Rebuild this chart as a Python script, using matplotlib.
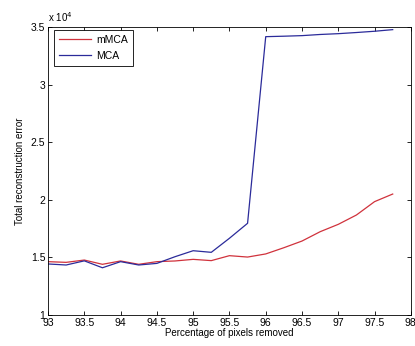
import numpy as np
import matplotlib.pyplot as plt

plt.rcParams['font.family'] = ['Liberation Sans', 'DejaVu Sans']

# percentage of pixels removed
pct = [93.0, 93.25, 93.5, 93.75, 94.0, 94.25, 94.5, 94.75, 95.0, 95.25,
       95.5, 95.75, 96.0, 96.25, 96.5, 96.75, 97.0, 97.25, 97.5, 97.75]

# total reconstruction error, in units of 1e4
mmca = [1.463, 1.457, 1.477, 1.440, 1.469, 1.440, 1.463, 1.469, 1.483, 1.472,
        1.515, 1.503, 1.530, 1.584, 1.642, 1.723, 1.787, 1.868, 1.984, 2.050]
mca = [1.443, 1.434, 1.470, 1.410, 1.463, 1.434, 1.448, 1.506, 1.558, 1.544,
       1.666, 1.796, 3.416, 3.420, 3.425, 3.435, 3.442, 3.452, 3.463, 3.477]

fig = plt.figure(figsize=(4.15, 3.46), dpi=100)
ax = fig.add_axes([0.1157, 0.0896, 0.8743, 0.8324])

ax.plot(pct, mmca, color='#d0323c', lw=0.9, label='mMCA')
ax.plot(pct, mca, color='#2b2b9a', lw=0.9, label='MCA')

ax.set_xlim(93, 98)
ax.set_ylim(1, 3.5)
ax.set_xticks(np.arange(93, 98.01, 0.5))
ax.set_xticklabels(['93', '93.5', '94', '94.5', '95', '95.5', '96', '96.5', '97', '97.5', '98'])
ax.set_yticks([1, 1.5, 2, 2.5, 3, 3.5])
ax.set_yticklabels(['1', '1.5', '2', '2.5', '3', '3.5'])
ax.tick_params(direction='in', top=True, right=True, labelsize=7.5, length=3, width=0.6, pad=2)
for s in ax.spines.values():
    s.set_linewidth(0.6)

ax.set_xlabel('Percentage of pixels removed', fontsize=7, labelpad=0)
ax.set_ylabel('Total reconstruction error', fontsize=7, labelpad=4)
ax.text(0.0, 1.01, r'x 10$^4$', transform=ax.transAxes, fontsize=7, va='bottom', ha='left')

leg = ax.legend(loc='upper left', bbox_to_anchor=(0.017, 0.99), borderaxespad=0,
                fontsize=7.5, fancybox=False, framealpha=1, edgecolor='black',
                handlelength=3.0, borderpad=0.5, labelspacing=0.55,
                handletextpad=0.5)
leg.get_frame().set_linewidth(0.6)

fig.savefig('out.png', dpi=100)
